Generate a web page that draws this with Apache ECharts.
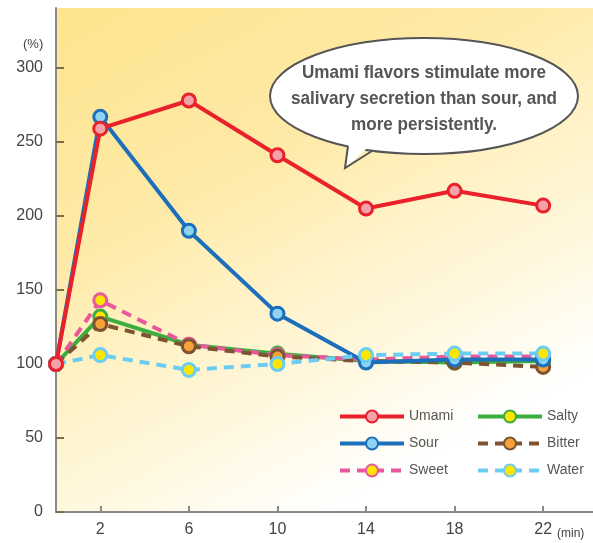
<!DOCTYPE html>
<html>
<head>
<meta charset="utf-8">
<script src="https://cdn.jsdelivr.net/npm/echarts@6/dist/echarts.min.js"></script>
<style>
  html, body { margin: 0; padding: 0; background: #fff; }
  #chart { width: 593px; height: 543px; }
</style>
</head>
<body>
<div id="chart"></div>
<script>
// 数据
const minutes = [0, 2, 6, 10, 14, 18, 22];
const tickMinutes = [2, 6, 10, 14, 18, 22];
const tickPercent = [0, 50, 100, 150, 200, 250, 300];

const umami  = [100, 259, 278, 241, 205, 217, 207];
const sour   = [100, 267, 190, 134, 101, 103, 103];
const sweet  = [100, 143, 113, 106, 103, 105, 105];
const salty  = [100, 132, 113, 107, 102, 101, 102];
const bitter = [100, 127, 112, 105, 102, 101, 98];
const water  = [100, 106, 96, 100, 106, 107, 107];

const pairs = vals => minutes.map((t, i) => [t, vals[i]]);

// 系列样式
function makeSeries(name, vals, line, fill, dashed, z) {
    return {
        name: name,
        type: 'line',
        data: pairs(vals),
        z: z,
        symbol: 'circle',
        symbolSize: 13,
        lineStyle: { color: line, width: 4, type: dashed ? [10, 7] : 'solid' },
        itemStyle: { color: fill, borderColor: line, borderWidth: 3 },
        emphasis: { disabled: true },
        animation: false
    };
}

const chart = echarts.init(document.getElementById('chart'));
const textFont = '"Liberation Sans", Arial, sans-serif';

const legendBase = {
    orient: 'vertical', top: 409, padding: 0,
    itemWidth: 64, itemHeight: 15, itemGap: 12,
    lineStyle: { width: 4 },
    textStyle: { color: '#555', fontSize: 14, fontFamily: textFont, lineHeight: 15 },
    selectedMode: false
};

const option = {
    animation: false,
    grid: {
        left: 56, right: 0, top: 8, bottom: 31,
        show: true,
        borderWidth: 0,
        backgroundColor: new echarts.graphic.LinearGradient(0, 0, 0.5, 1, [
            { offset: 0, color: '#fee48e' },
            { offset: 0.4, color: '#feeaa8' },
            { offset: 0.6, color: '#fff2c6' },
            { offset: 0.8, color: '#fff8e0' },
            { offset: 1, color: '#ffffff' }
        ])
    },
    xAxis: {
        type: 'value',
        min: 0,
        max: 24.25,
        axisLine: { lineStyle: { color: '#8a8a8a', width: 2 } },
        axisTick: { show: true, inside: true, length: 6, customValues: tickMinutes, lineStyle: { color: '#8a8a8a', width: 2 } },
        axisLabel: { customValues: tickMinutes, color: '#444', fontSize: 16, fontFamily: textFont, margin: 10 },
        splitLine: { show: false }
    },
    yAxis: {
        type: 'value',
        min: 0,
        max: 340.5,
        axisLine: { show: true, lineStyle: { color: '#8a8a8a', width: 2 } },
        axisTick: { show: true, inside: true, length: 8, customValues: tickPercent, lineStyle: { color: '#76704e', width: 2 } },
        axisLabel: { customValues: tickPercent, color: '#444', fontSize: 16, fontFamily: textFont, margin: 13 },
        splitLine: { show: false }
    },
    legend: [
        Object.assign({ data: ['Umami', 'Sour', 'Sweet'], left: 338 }, legendBase),
        Object.assign({ data: ['Salty', 'Bitter', 'Water'], left: 476 }, legendBase)
    ],
    series: [
        makeSeries('Salty', salty, '#3bae3f', '#ffe600', false, 2),
        makeSeries('Sweet', sweet, '#e9579c', '#ffe600', true, 3),
        makeSeries('Bitter', bitter, '#7d5331', '#f5a23a', true, 4),
        makeSeries('Sour', sour, '#1c6fba', '#8fd3f3', false, 5),
        makeSeries('Water', water, '#6ccdf3', '#ffe600', true, 6),
        makeSeries('Umami', umami, '#e8212b', '#f3a2aa', false, 7)
    ],
    graphic: [
        { type: 'text', left: 23, top: 38, style: { text: '(%)', fill: '#444', font: '13px ' + textFont } },
        { type: 'text', left: 557, top: 528, style: { text: '(min)', fill: '#444', font: '12px ' + textFont } },
        // 对话气泡
        { type: 'ellipse', z: 100, shape: { cx: 424, cy: 96, rx: 154, ry: 58 }, style: { fill: '#fff', stroke: '#555', lineWidth: 2 } },
        { type: 'polygon', z: 101, shape: { points: [[349, 138], [346, 167], [372, 144]] }, style: { fill: '#fff' } },
        { type: 'polyline', z: 102, shape: { points: [[348, 146], [345, 168], [372, 151]] }, style: { stroke: '#555', lineWidth: 2, fill: null } },
        {
            type: 'text', z: 103, x: 424, y: 99, scaleX: 0.9,
            style: {
                text: 'Umami flavors stimulate more\nsalivary secretion than sour, and\nmore persistently.',
                fill: '#555',
                font: 'bold 19px ' + textFont,
                lineHeight: 26,
                align: 'center',
                verticalAlign: 'middle'
            }
        }
    ]
};

chart.setOption(option);
</script>
</body>
</html>
